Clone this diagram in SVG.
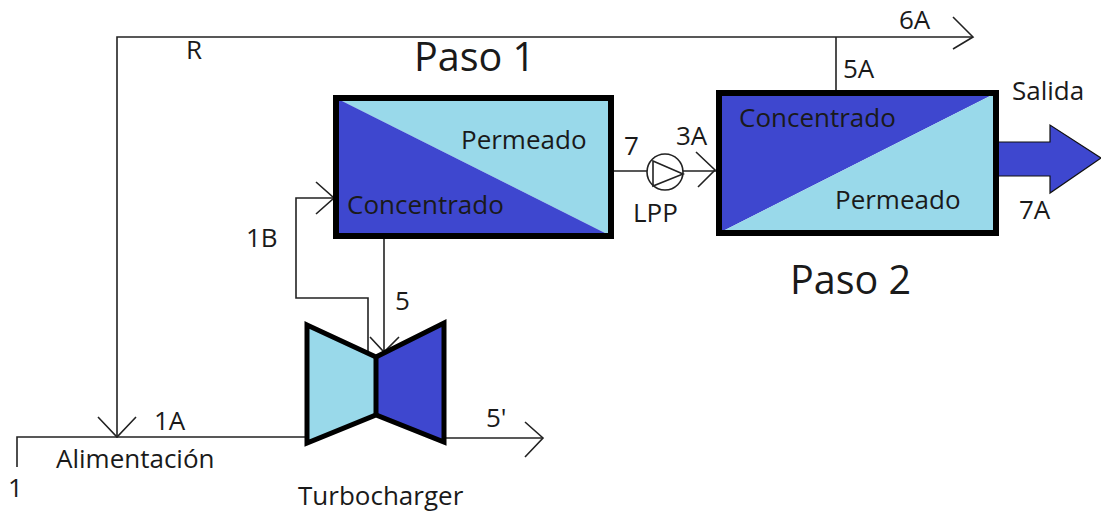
<svg xmlns="http://www.w3.org/2000/svg" width="1101" height="514" viewBox="0 0 1101 514">
<defs><style>
text{font-family:"Open Sans","DejaVu Sans",sans-serif;fill:#1a1a1a;font-size:26px}
.big{font-size:39.5px}
.line{fill:none;stroke:#222;stroke-width:1.6}
.box{fill:none;stroke:#000;stroke-width:6}
.dark{fill:#3e47cf}
.light{fill:#99d9ea}
</style></defs>
<rect width="1101" height="514" fill="#fff"/>
<g id="connectors">
<path class="line" d="M17 467V437H307"/>
<path class="line" d="M117 437V37H973"/>
<path class="line" d="M953 17L973 37L953 49"/>
<path class="line" d="M98 417L117 437L136 417"/>
<path class="line" d="M836 37V94"/>
<path class="line" d="M384 238V353"/>
<path class="line" d="M370 337L384 352L399 337"/>
<path class="line" d="M368 352V298H296V198H334"/>
<path class="line" d="M316 182L334 198L316 214"/>
<path class="line" d="M612 171H648M683 171H717"/>
<path class="line" d="M696 152L715 170L698 187"/>
<path class="line" d="M445 438H543"/>
<path class="line" d="M525 422L543 438L525 457"/>
</g>
<g id="paso1">
<polygon class="light" points="336,98 611,98 611,236"/>
<polygon class="dark" points="336,98 611,236 336,236"/>
<rect class="box" x="336" y="98" width="275" height="138"/>
<text x="461" y="149">Permeado</text>
<text x="347" y="214">Concentrado</text>
<text class="big" x="414" y="71">Paso 1</text>
</g>
<g id="paso2">
<polygon class="dark" points="719,93 996,93 719,233"/>
<polygon class="light" points="996,93 996,233 719,233"/>
<rect class="box" x="719" y="93" width="277" height="140"/>
<text x="739" y="127">Concentrado</text>
<text x="835" y="209">Permeado</text>
<text class="big" x="790" y="294">Paso 2</text>
</g>
<g id="salida">
<polygon class="dark" points="999,142 1050,142 1050,125 1101,158 1050,193 1050,176 999,176"/>
<path d="M999 142H1050V125L1101 158L1050 193V176H999" fill="none" stroke="#111" stroke-width="1.2"/>
<text x="1012" y="100">Salida</text>
<text x="1019" y="219">7A</text>
</g>
<g id="lpp">
<circle cx="665" cy="172" r="18" fill="#fff" stroke="#222" stroke-width="1.6"/>
<path class="line" d="M653 161L683 174L653 186Z"/>
<text x="633" y="222">LPP</text>
</g>
<g id="turbocharger">
<polygon class="light" points="307,325 376,357 376,415 307,443"/>
<polygon class="dark" points="376,357 444,323 444,442 376,415"/>
<polygon points="307,325 376,357 444,323 444,442 376,415 307,443" fill="none" stroke="#000" stroke-width="5"/>
<path d="M376 357V415" stroke="#000" stroke-width="5"/>
<text x="298" y="505">Turbocharger</text>
</g>
<g id="labels">
<text x="899" y="29">6A</text>
<text x="186" y="59">R</text>
<text x="843" y="78">5A</text>
<text x="624" y="155">7</text>
<text x="676" y="145">3A</text>
<text x="246" y="247">1B</text>
<text x="395" y="310">5</text>
<text x="154" y="430">1A</text>
<text x="486" y="427">5'</text>
<text x="56" y="468">Alimentación</text>
<text x="8" y="497">1</text>
</g>
</svg>
